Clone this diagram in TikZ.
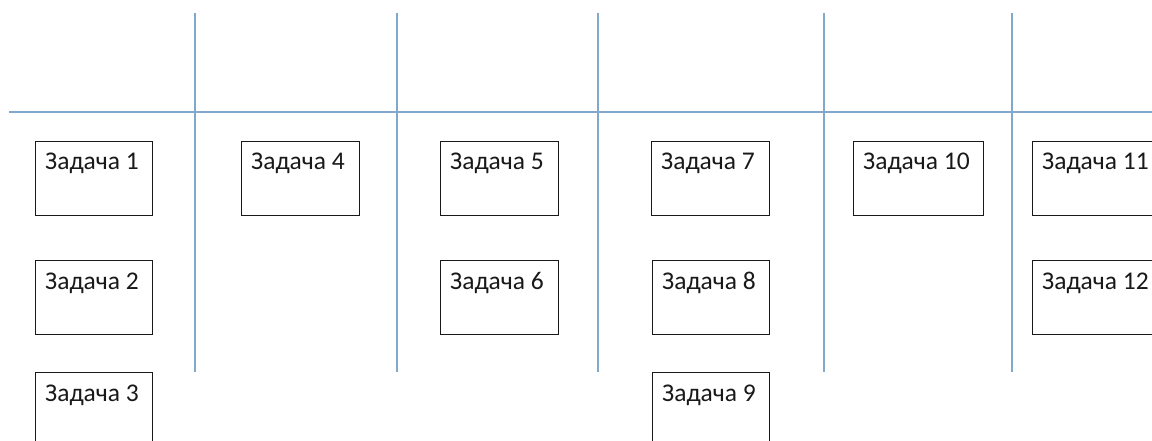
\documentclass[tikz,border=0pt]{standalone}
\usepackage{fontspec}
\setmainfont{Carlito}
\definecolor{gridblue}{HTML}{82A9CC}
\tikzset{
  task/.style={draw=black!90, line width=1.3pt, rectangle, anchor=north west, inner sep=0pt, minimum height=74pt},
  tasklabel/.style={anchor=base west, inner sep=0pt, font=\fontsize{25.5}{28}\selectfont, text=black!90},
  gridline/.style={draw=gridblue, line width=1.1pt}
}
\begin{document}
\begin{tikzpicture}[x=1pt,y=-1pt]
\useasboundingbox (0,0) rectangle (1152,441);
\fill[white] (0,0) rectangle (1152,441);
% grid
\coordinate (hl) at (9,112);
\coordinate (hr) at (1152,112);
\draw[gridline] (hl) -- (hr);
\foreach \x [count=\i] in {195,397,598,824,1012}{
  \coordinate (vt\i) at (\x,13);
  \coordinate (vb\i) at (\x,372);
  \draw[gridline] (vt\i) -- (vb\i);
}
% tasks
\foreach \n/\x/\y/\w in {1/35/141/117, 2/35/260/117, 3/35/372/117,
                         4/241/141/118, 5/440/141/118, 6/440/260/118,
                         7/651/141/118, 8/652/260/117, 9/652/372/117,
                         10/853/141/130, 11/1032/141/130, 12/1032/260/130}{
  \node[task, minimum width=\w pt] (t\n) at (\x,\y) {};
  \node[tasklabel] (l\n) at ([xshift=10pt,yshift=-29pt]t\n.north west) {Задача \n};
}
\end{tikzpicture}
\end{document}
